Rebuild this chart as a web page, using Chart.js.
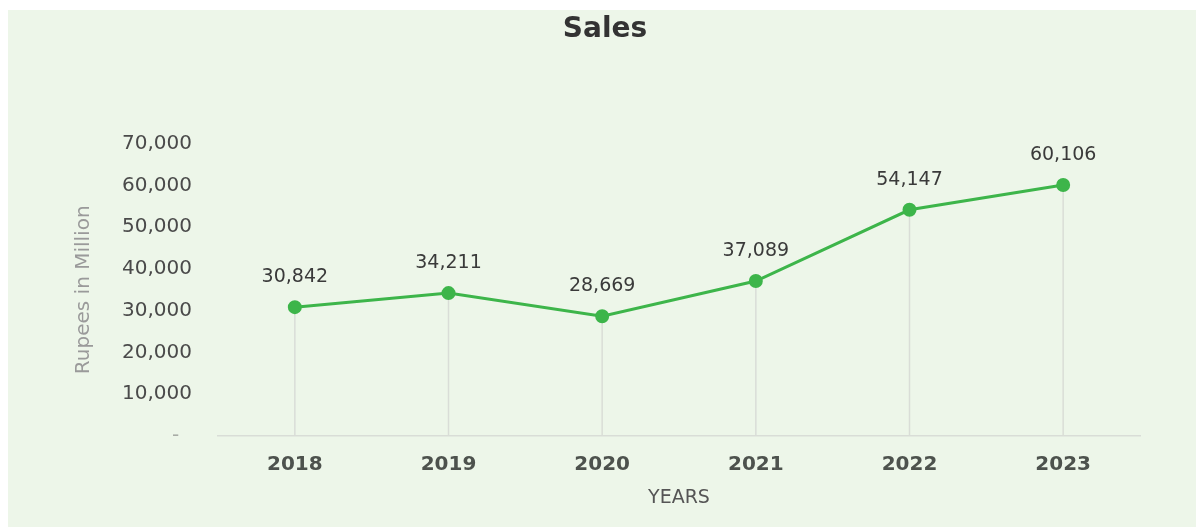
<!DOCTYPE html>
<html>
<head>
<meta charset="utf-8">
<title>Sales</title>
<script src="https://cdn.jsdelivr.net/npm/chart.js@4/dist/chart.umd.min.js"></script>
<style>
    html, body { margin: 0; padding: 0; background: #ffffff; }
    #card {
        position: absolute;
        left: 8px;
        top: 10px;
        width: 1188px;
        height: 517px;
        background: #edf6e9;
    }
    canvas { display: block; }
</style>
</head>
<body>
<div id="card">
    <canvas id="salesChart" width="1188" height="517"></canvas>
</div>
<script>
var years = ['2018', '2019', '2020', '2021', '2022', '2023'];
var sales = [30842, 34211, 28669, 37089, 54147, 60106];
var yTicks = [0, 10000, 20000, 30000, 40000, 50000, 60000, 70000];

var lineGreen = '#3db54a';
var fontFamily = "'DejaVu Sans', sans-serif";

// accounting style: zero shows as a dash
function fmt(v) {
    return v === 0 ? '-  ' : v.toLocaleString('en-US');
}

// thin gray lines from each point down to the x axis
var dropLines = {
    id: 'dropLines',
    beforeDatasetsDraw: function (chart) {
        var ctx = chart.ctx;
        var bottom = chart.chartArea.bottom;
        ctx.save();
        ctx.strokeStyle = '#d9ddd7';
        ctx.lineWidth = 1.5;
        chart.getDatasetMeta(0).data.forEach(function (pt) {
            ctx.beginPath();
            ctx.moveTo(pt.x, pt.y);
            ctx.lineTo(pt.x, bottom);
            ctx.stroke();
        });
        ctx.restore();
    }
};

// value labels above the points
var valueLabels = {
    id: 'valueLabels',
    afterDatasetsDraw: function (chart) {
        var ctx = chart.ctx;
        var values = chart.data.datasets[0].data;
        ctx.save();
        ctx.font = '19px ' + fontFamily;
        ctx.fillStyle = '#3a3a3a';
        ctx.textAlign = 'center';
        ctx.textBaseline = 'middle';
        chart.getDatasetMeta(0).data.forEach(function (pt, i) {
            ctx.fillText(values[i].toLocaleString('en-US'), pt.x, pt.y - 30);
        });
        ctx.restore();
    }
};

document.addEventListener('DOMContentLoaded', function () {
    var ctx = document.getElementById('salesChart').getContext('2d');

    new Chart(ctx, {
        type: 'line',
        data: {
            labels: years,
            datasets: [{
                label: 'Sales',
                data: sales,
                borderColor: lineGreen,
                backgroundColor: lineGreen,
                borderWidth: 3,
                pointRadius: 5.5,
                pointBackgroundColor: lineGreen,
                pointBorderColor: lineGreen,
                tension: 0
            }]
        },
        options: {
            responsive: false,
            animation: false,
            layout: {
                padding: { left: 62, right: 56, top: 0, bottom: 0 }
            },
            plugins: {
                legend: { display: false },
                tooltip: { enabled: false },
                title: {
                    display: true,
                    text: 'Sales',
                    color: '#333333',
                    font: { family: fontFamily, size: 28, weight: 'bold' },
                    padding: { top: 3, bottom: 97 }
                }
            },
            scales: {
                x: {
                    offset: true,
                    grid: { color: 'transparent', drawTicks: false },
                    border: { display: true, color: '#d9ddd7', width: 1.5 },
                    ticks: {
                        color: '#4d524d',
                        padding: 17,
                        font: { family: fontFamily, size: 20, weight: 'bold' }
                    },
                    title: {
                        display: true,
                        text: 'YEARS',
                        color: '#555555',
                        font: { family: fontFamily, size: 19 },
                        padding: { top: 0, bottom: 18 }
                    },
                    afterFit: function (scale) { scale.height = 91; }
                },
                y: {
                    min: 0,
                    max: 70000,
                    afterBuildTicks: function (scale) {
                        scale.ticks = yTicks.map(function (v) { return { value: v }; });
                    },
                    grid: { display: false, drawTicks: false },
                    border: { display: false },
                    ticks: {
                        color: function (c) { return c.tick && c.tick.value === 0 ? '#a8aca6' : '#4a4a4a'; },
                        padding: 26,
                        font: { family: fontFamily, size: 20 },
                        callback: function (v) { return fmt(v); }
                    },
                    title: {
                        display: true,
                        text: 'Rupees in Million',
                        color: '#9a9a9a',
                        font: { family: fontFamily, size: 20 },
                        padding: { top: 2, bottom: 0 }
                    },
                    afterFit: function (scale) { scale.width = 148; }
                }
            }
        },
        plugins: [dropLines, valueLabels]
    });
});
</script>
</body>
</html>
